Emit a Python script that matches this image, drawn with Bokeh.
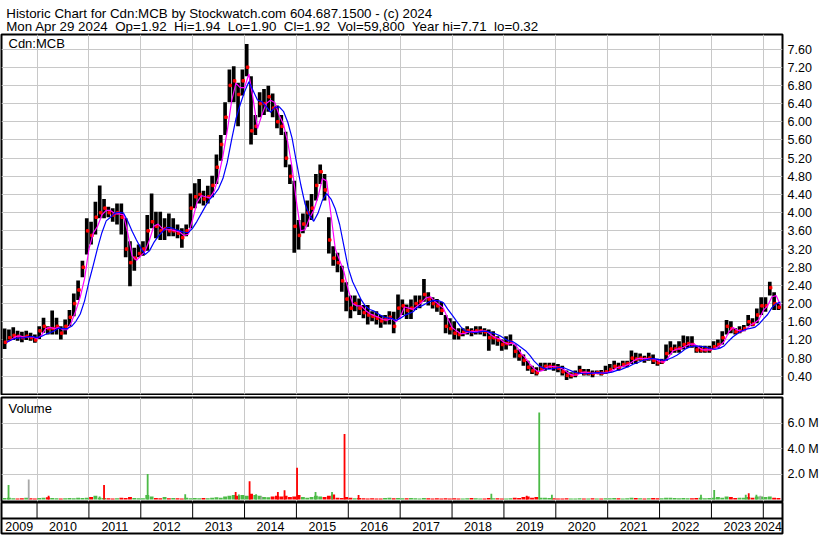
import numpy as np
import pandas as pd
from bokeh.plotting import figure
from bokeh.layouts import column
from bokeh.models import Range1d, FixedTicker, NumeralTickFormatter, CustomJSTickFormatter, Label, Span
from bokeh.core.properties import value
from bokeh.embed import file_html
from bokeh.resources import INLINE

# ---------------- data ----------------
header_line1 = "Historic Chart for Cdn:MCB by Stockwatch.com 604.687.1500 - (c) 2024"
header_line2 = "Mon Apr 29 2024  Op=1.92  Hi=1.94  Lo=1.90  Cl=1.92  Vol=59,800  Year hi=7.71  lo=0.32"
symbol_label = "Cdn:MCB"
volume_label = "Volume"

first_month = "2009-05-01"

month_high = [
    1.45, 1.43, 1.48, 1.40, 1.38, 1.40, 1.36, 1.32,
    1.50, 1.69, 1.50, 1.85, 1.69, 1.50, 1.65, 1.86, 2.22, 2.51, 2.94, 3.88,
    3.80, 4.24, 4.60, 4.30, 4.13, 4.10, 4.20, 4.20, 3.88, 3.37, 3.23, 3.30,
    3.37, 3.95, 4.42, 4.02, 4.02, 3.88, 3.98, 3.88, 3.74, 3.66, 3.74, 4.42,
    4.65, 4.74, 4.48, 4.59, 4.81, 5.28, 5.71, 6.43, 7.15, 7.22, 6.86, 7.15,
    7.71, 7.00, 6.15, 6.65, 6.72, 6.79, 6.62, 6.36, 6.15, 5.78, 5.06, 4.70,
    3.84, 3.98, 4.27, 4.41, 4.85, 5.06, 4.85, 3.90, 3.26, 3.12, 2.83, 2.47,
    2.18, 2.18, 2.11, 1.97, 1.97, 1.83, 1.83, 1.75, 1.75, 1.83, 1.82, 2.20,
    2.09, 1.98, 2.09, 2.18, 2.18, 2.54, 2.25, 2.14, 2.10, 2.04, 1.75, 1.68,
    1.61, 1.46, 1.46, 1.50, 1.46, 1.50, 1.50, 1.46, 1.43, 1.39, 1.28, 1.21,
    1.28, 1.32, 1.10, 0.99, 0.88, 0.74, 0.63, 0.60, 0.70, 0.70, 0.70, 0.70,
    0.67, 0.63, 0.53, 0.49, 0.53, 0.63, 0.56, 0.56, 0.53, 0.53, 0.54, 0.63,
    0.67, 0.74, 0.70, 0.74, 0.74, 0.97, 0.92, 0.90, 0.85, 0.92, 0.88, 0.78,
    0.78, 1.10, 1.17, 1.10, 1.17, 1.30, 1.28, 1.28, 1.07, 1.07, 1.07, 1.07,
    1.17, 1.21, 1.39, 1.64, 1.61, 1.46, 1.50, 1.53, 1.75, 1.68, 1.89, 2.14,
    2.14, 2.48, 2.25, 2.00,
]
month_low = [
    1.00, 1.18, 1.20, 1.18, 1.15, 1.20, 1.18, 1.14,
    1.22, 1.36, 1.32, 1.32, 1.32, 1.21, 1.32, 1.50, 1.72, 2.08, 2.58, 3.08,
    3.30, 3.52, 3.88, 3.88, 3.90, 3.80, 3.74, 3.52, 3.02, 2.38, 2.72, 3.02,
    3.05, 3.16, 3.66, 3.44, 3.40, 3.40, 3.48, 3.48, 3.44, 3.23, 3.48, 3.66,
    4.10, 4.20, 4.16, 4.20, 4.34, 4.63, 5.14, 5.71, 6.43, 6.43, 5.90, 6.58,
    7.00, 5.50, 5.71, 6.10, 6.15, 6.22, 6.10, 5.86, 5.71, 5.00, 4.63, 3.12,
    3.19, 3.55, 3.69, 3.84, 4.27, 4.63, 4.27, 3.10, 2.83, 2.69, 2.26, 1.83,
    1.68, 1.83, 1.75, 1.68, 1.54, 1.61, 1.54, 1.47, 1.54, 1.54, 1.35, 1.66,
    1.75, 1.66, 1.66, 1.86, 1.90, 2.04, 1.96, 1.89, 1.82, 1.75, 1.35, 1.32,
    1.21, 1.21, 1.28, 1.32, 1.28, 1.32, 1.32, 1.28, 0.96, 1.10, 1.07, 0.96,
    0.99, 1.07, 0.81, 0.74, 0.63, 0.52, 0.45, 0.42, 0.52, 0.52, 0.56, 0.52,
    0.49, 0.42, 0.32, 0.35, 0.38, 0.45, 0.42, 0.42, 0.38, 0.45, 0.42, 0.45,
    0.49, 0.56, 0.53, 0.60, 0.60, 0.67, 0.67, 0.74, 0.70, 0.74, 0.67, 0.63,
    0.67, 0.74, 0.88, 0.92, 0.92, 0.99, 1.03, 1.03, 0.92, 0.92, 0.92, 0.92,
    0.99, 1.03, 1.10, 1.32, 1.35, 1.32, 1.35, 1.39, 1.50, 1.50, 1.57, 1.75,
    1.82, 2.18, 1.86, 1.86,
]
month_close = [
    1.15, 1.25, 1.30, 1.28, 1.25, 1.28, 1.25, 1.20,
    1.40, 1.50, 1.45, 1.45, 1.50, 1.35, 1.50, 1.70, 2.00, 2.30, 2.80, 3.60,
    3.50, 3.90, 4.00, 4.10, 4.00, 3.95, 4.00, 3.90, 3.20, 2.90, 3.00, 3.10,
    3.20, 3.60, 3.80, 3.70, 3.60, 3.65, 3.60, 3.60, 3.55, 3.45, 3.60, 4.10,
    4.35, 4.40, 4.30, 4.35, 4.60, 5.00, 5.50, 6.10, 6.80, 6.90, 6.60, 6.90,
    7.20, 5.80, 5.90, 6.40, 6.40, 6.55, 6.30, 6.00, 5.90, 5.20, 4.80, 3.70,
    3.50, 3.75, 4.00, 4.10, 4.60, 4.90, 4.50, 3.40, 3.00, 2.90, 2.50, 2.10,
    1.90, 2.00, 1.90, 1.80, 1.75, 1.72, 1.68, 1.62, 1.65, 1.70, 1.50, 1.90,
    1.95, 1.85, 1.90, 2.00, 2.05, 2.20, 2.10, 2.00, 1.95, 1.85, 1.50, 1.45,
    1.35, 1.32, 1.37, 1.40, 1.38, 1.40, 1.40, 1.38, 1.25, 1.25, 1.20, 1.10,
    1.12, 1.15, 0.95, 0.85, 0.75, 0.60, 0.52, 0.48, 0.58, 0.62, 0.62, 0.60,
    0.58, 0.50, 0.42, 0.42, 0.45, 0.52, 0.47, 0.47, 0.46, 0.48, 0.47, 0.50,
    0.55, 0.62, 0.60, 0.66, 0.68, 0.80, 0.78, 0.80, 0.78, 0.80, 0.75, 0.70,
    0.72, 0.90, 1.00, 1.00, 1.02, 1.10, 1.12, 1.10, 0.98, 0.98, 0.98, 0.99,
    1.05, 1.10, 1.25, 1.50, 1.45, 1.38, 1.40, 1.45, 1.60, 1.55, 1.75, 1.95,
    1.95, 2.35, 2.00, 1.92,
]
# typical daily volume level per month (millions of shares)
month_volume_m = [
    0.12, 0.15, 0.10, 0.08, 0.10, 0.14, 0.10, 0.08,
    0.12, 0.15, 0.18, 0.12, 0.10, 0.08, 0.10, 0.12, 0.10, 0.14, 0.12, 0.15,
    0.20, 0.30, 0.15, 0.12, 0.10, 0.08, 0.10, 0.15, 0.12, 0.20, 0.12, 0.10,
    0.10, 0.35, 0.25, 0.12, 0.10, 0.20, 0.10, 0.12, 0.10, 0.08, 0.15, 0.10,
    0.12, 0.10, 0.12, 0.10, 0.15, 0.18, 0.15, 0.25, 0.30, 0.35, 0.30, 0.35,
    0.30, 0.45, 0.35, 0.30, 0.20, 0.18, 0.25, 0.30, 0.25, 0.30, 0.20, 0.25,
    0.35, 0.20, 0.15, 0.20, 0.30, 0.25, 0.20, 0.30, 0.40, 0.15, 0.12, 0.20,
    0.15, 0.10, 0.12, 0.10, 0.08, 0.10, 0.08, 0.08, 0.12, 0.15, 0.10, 0.12,
    0.10, 0.10, 0.12, 0.10, 0.08, 0.12, 0.10, 0.08, 0.10, 0.08, 0.10, 0.08,
    0.10, 0.08, 0.08, 0.10, 0.12, 0.10, 0.08, 0.08, 0.12, 0.10, 0.10, 0.08,
    0.08, 0.10, 0.15, 0.12, 0.20, 0.25, 0.15, 0.20, 0.15, 0.15, 0.12, 0.10,
    0.08, 0.08, 0.10, 0.08, 0.08, 0.10, 0.08, 0.08, 0.10, 0.08, 0.08, 0.10,
    0.10, 0.12, 0.10, 0.08, 0.10, 0.15, 0.12, 0.10, 0.08, 0.10, 0.12, 0.10,
    0.10, 0.15, 0.15, 0.12, 0.10, 0.12, 0.10, 0.10, 0.12, 0.15, 0.10, 0.12,
    0.15, 0.20, 0.15, 0.25, 0.20, 0.12, 0.15, 0.15, 0.20, 0.15, 0.25, 0.25,
    0.20, 0.25, 0.15, 0.12,
]
# heavy-volume days
spike_dates = [
    "2009-06-14", "2009-11-03", "2010-03-23", "2011-03-17", "2011-04-17",
    "2012-02-18", "2012-11-09", "2013-10-30", "2013-11-22", "2014-02-05",
    "2014-03-23", "2014-04-29", "2014-08-23", "2014-10-09", "2015-01-05",
    "2015-05-15", "2015-09-08", "2015-12-05", "2016-03-13", "2018-10-04",
    "2019-06-10", "2019-09-06", "2019-12-04", "2022-10-19", "2023-01-20",
    "2023-08-30", "2023-09-20", "2023-11-13", "2023-12-11",
]
spike_volume_m = [
    1.14, 1.58, 0.30, 0.25, 1.14,
    2.00, 0.42, 0.60, 0.40, 1.43,
    0.42, 0.25, 0.60, 0.73, 2.50,
    0.60, 0.60, 5.13, 0.35, 0.45,
    0.30, 6.83, 0.37, 0.37, 0.76,
    0.37, 0.50, 0.37, 0.30,
]
spike_kind = [
    "up", "flat", "down", "up", "down",
    "up", "up", "down", "up", "down",
    "up", "flat", "down", "down", "down",
    "up", "up", "down", "down", "up",
    "down", "up", "up", "up", "up",
    "up", "down", "up", "flat",
]
price_ticks = [0.40, 0.80, 1.20, 1.60, 2.00, 2.40, 2.80, 3.20, 3.60, 4.00,
               4.40, 4.80, 5.20, 5.60, 6.00, 6.40, 6.80, 7.20, 7.60]
volume_ticks = [2.0e6, 4.0e6, 6.0e6]
year_labels = ["2009", "2010", "2011", "2012", "2013", "2014", "2015", "2016",
               "2017", "2018", "2019", "2020", "2021", "2022", "2023", "2024"]

# ---------------- derived ----------------
FONT = "Liberation Sans"
KIND_COLOR = {"up": "#4cbb47", "down": "#ff0000", "flat": "#a8a8a8"}
GRID = "#c8c8c8"

months = pd.date_range(first_month, periods=len(month_close), freq="MS")
m_start = months.year + (months.month - 1) / 12.0
m_center = np.asarray(m_start + 1 / 24.0)
m_end = np.asarray(m_start + 1 / 12.0)
close_s = pd.Series(month_close)
ma_short = close_s.rolling(2, min_periods=1).mean().values   # ~20-day average
ma_long = close_s.rolling(5, min_periods=1).mean().values    # ~100-day average
prev_close = close_s.shift(1).fillna(close_s.iloc[0]).values
base_colors = [KIND_COLOR["up"] if c >= pc else KIND_COLOR["down"]
               for c, pc in zip(month_close, prev_close)]
base_vol = np.array(month_volume_m) * 1e6

sd = pd.to_datetime(spike_dates)
spike_x = np.asarray(sd.year + (sd.dayofyear - 0.5) / np.where(sd.is_leap_year, 366, 365))
spike_vol = np.array(spike_volume_m) * 1e6
spike_colors = [KIND_COLOR[k] for k in spike_kind]

year_bounds = [int(y) + 1 for y in year_labels[:-1]]

X0, X1 = 2009.315, 2024.37
xr = Range1d(X0, X1)
label_x = [min((max(int(y), X0) + min(int(y) + 1, X1)) / 2, X1 - 0.28) for y in year_labels]

# keep the double spaces of the header visible in SVG
header_line2_shown = header_line2.replace("  ", " \u00a0")

W = 822
L_B, R_B = 1, 40


def panel(height, y_range, top, bottom):
    f = figure(width=W, height=height, x_range=xr, y_range=y_range, title=None,
               x_axis_location=None, y_axis_location="right",
               toolbar_location=None, output_backend="svg",
               min_border_left=L_B, min_border_right=R_B,
               min_border_top=top, min_border_bottom=bottom)
    f.outline_line_color = "black"
    f.outline_line_width = 2
    f.outline_line_alpha = 1
    f.background_fill_color = "white"
    f.border_fill_color = "white"
    ax = f.yaxis[0]
    ax.axis_line_color = None
    ax.major_tick_line_color = None
    ax.minor_tick_line_color = None
    ax.major_tick_in = 0
    ax.major_tick_out = 0
    ax.major_label_standoff = 5
    ax.major_label_text_font = FONT
    ax.major_label_text_font_size = "12.5px"
    ax.major_label_text_color = "black"
    f.xgrid.ticker = FixedTicker(ticks=year_bounds)
    f.xgrid.grid_line_color = GRID
    f.ygrid.grid_line_color = GRID
    return f


# header
HEADER_H = 33
hf = figure(width=W, height=HEADER_H, x_range=Range1d(0, W), y_range=Range1d(HEADER_H, 0),
            title=None, x_axis_location=None, y_axis_location=None, toolbar_location=None,
            output_backend="svg", min_border_left=0, min_border_right=0,
            min_border_top=0, min_border_bottom=0)
hf.outline_line_color = None
hf.xgrid.visible = False
hf.ygrid.visible = False
hf.text(x=[5, 5], y=[13, 25.5], text=[header_line1, header_line2_shown],
        text_font=value(FONT), text_font_size="10pt", text_color="black",
        text_baseline="alphabetic", text_align="left")

# price panel
pf = panel(362, Range1d(0, 7.92), 1, 1)
pf.yaxis.ticker = FixedTicker(ticks=price_ticks)
pf.yaxis.formatter = NumeralTickFormatter(format="0.00")
pf.ygrid.ticker = FixedTicker(ticks=price_ticks)
pf.vbar(x=m_center, top=month_high, bottom=month_low, width=0.85 / 12,
        fill_color="black", line_color=None)
pf.scatter(x=m_center + 0.2 / 12, y=month_close, marker="square", size=2.5,
           fill_color="red", line_color="red")
pf.line(x=m_end, y=ma_short, line_color="#ff00ff", line_width=1.2)
pf.line(x=m_end, y=ma_long, line_color="#0000ff", line_width=1.2)
pf.add_layout(Label(x=X0, y=7.92, x_offset=7, y_offset=-1, text=symbol_label,
                    text_font=FONT, text_font_size="13px", text_color="black",
                    text_baseline="top"))

# volume panel
vf = panel(107, Range1d(-0.15e6, 8.0e6), 2, 1)
vf.yaxis.ticker = FixedTicker(ticks=volume_ticks)
vf.yaxis.formatter = CustomJSTickFormatter(code="return (tick/1e6).toFixed(1) + ' M';")
vf.ygrid.ticker = FixedTicker(ticks=volume_ticks)
vf.vbar(x=m_center, top=base_vol, bottom=0, width=0.9 / 12,
        fill_color=base_colors, line_color=None)
vf.vbar(x=spike_x, top=spike_vol, bottom=0, width=0.035,
        fill_color=spike_colors, line_color=None)
vf.add_layout(Label(x=X0, y=8.0e6, x_offset=7, y_offset=-3, text=volume_label,
                    text_font=FONT, text_font_size="13px", text_color="black",
                    text_baseline="top"))

# year strip
sf = figure(width=W, height=33, x_range=xr, y_range=Range1d(0, 31), title=None,
            x_axis_location=None, y_axis_location=None, toolbar_location=None,
            output_backend="svg", min_border_left=L_B, min_border_right=R_B,
            min_border_top=0, min_border_bottom=2)
sf.outline_line_color = "black"
sf.outline_line_width = 2
sf.xgrid.visible = False
sf.ygrid.visible = False
sf.segment(x0=year_bounds, y0=[15] * len(year_bounds), x1=year_bounds,
           y1=[31] * len(year_bounds), line_color="black", line_width=1)
sf.add_layout(Span(location=15, dimension="width", line_color="black", line_width=2))
sf.text(x=label_x, y=[7] * len(label_x), text=year_labels, text_font=value(FONT),
        text_font_size="12.5px", text_color="black", text_align="center",
        text_baseline="middle")

layout = column(hf, pf, vf, sf, spacing=0)

with open("out.html", "w") as fh:
    fh.write(file_html(layout, INLINE))
